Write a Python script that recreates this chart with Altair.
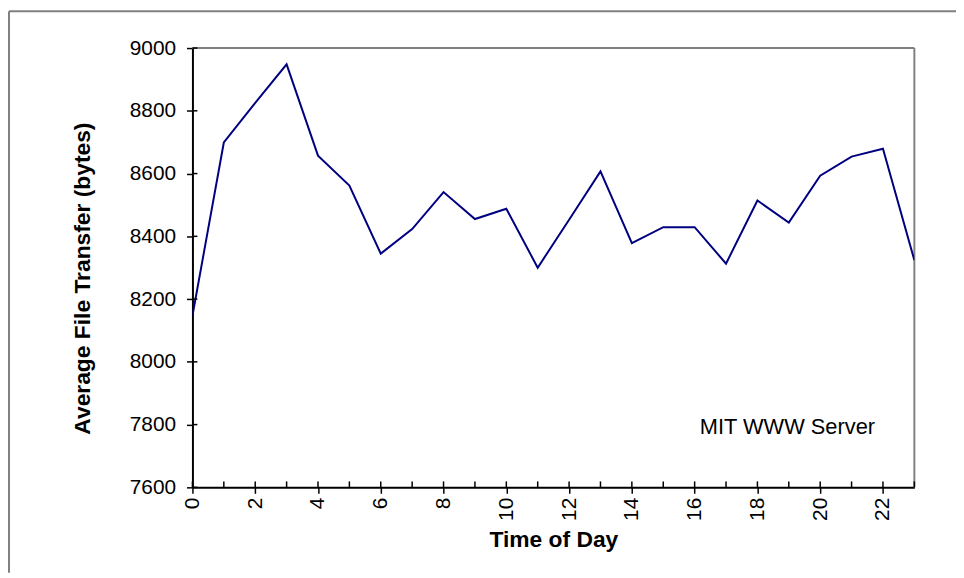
import altair as alt
import pandas as pd

hours = list(range(24))
avg_bytes = [8147, 8699, 8825, 8948, 8657, 8562, 8345, 8423, 8541, 8455, 8488, 8300,
             8453, 8607, 8378, 8429, 8429, 8313, 8514, 8444, 8593, 8654, 8679, 8324]
y_ticks = [7600, 7800, 8000, 8200, 8400, 8600, 8800, 9000]
x_ticks = list(range(24))
annotation = "MIT WWW Server"
x_title = "Time of Day"
y_title = "Average File Transfer (bytes)"

W, H = 728, 443
PAD = {"left": 186, "top": 38, "right": 42, "bottom": 86}
FONT = "Liberation Sans, Arial"

df = pd.DataFrame({"hour": hours, "bytes": avg_bytes})
ydf = pd.DataFrame({"v": y_ticks})
xdf = pd.DataFrame({"h": x_ticks})

xscale = alt.Scale(domain=[0, 23], nice=False, zero=False)
yscale = alt.Scale(domain=[7600, 9000], nice=False, zero=False)

line = alt.Chart(df).mark_line(color="#000080", strokeWidth=2, clip=True).encode(
    x=alt.X("hour:Q", scale=xscale,
            axis=alt.Axis(values=x_ticks, labelExpr="datum.value % 2 == 0 ? datum.label : ''",
                          labelAngle=-90, labelAlign="right", labelBaseline="middle",
                          labelPadding=4, labelFontSize=21, labelFont=FONT, labelColor="black",
                          tickSize=6, tickColor="black", tickWidth=1.5, domainColor="black",
                          domainWidth=2, grid=False, title=x_title, titleFont=FONT,
                          titleFontSize=23, titleFontWeight="bold", titleColor="black",
                          titleX=W / 2, titleY=60, titleBaseline="alphabetic", titleAlign="center")),
    y=alt.Y("bytes:Q", scale=yscale,
            axis=alt.Axis(values=y_ticks, format="d", labelPadding=11, labelFontSize=21,
                          labelFont=FONT, labelColor="black", tickSize=6, tickColor="black",
                          tickWidth=1.5, domainColor="black", domainWidth=2, grid=False,
                          title=y_title, titleFont=FONT, titleFontSize=23,
                          titleFontWeight="bold", titleColor="black", titleAngle=-90,
                          titleX=-111, titleY=232, titleBaseline="middle", titleAlign="center")),
)

yin = alt.Chart(ydf).mark_rule(color="black", strokeWidth=1.5).encode(
    y=alt.Y("v:Q", scale=yscale), x=alt.value(0), x2=alt.value(5))
xin = alt.Chart(xdf).mark_rule(color="black", strokeWidth=1.5).encode(
    x=alt.X("h:Q", scale=xscale), y=alt.value(H), y2=alt.value(H - 6))

top_frame = alt.Chart(pd.DataFrame({"a": [0]})).mark_rule(color="#808080", strokeWidth=2).encode(
    x=alt.value(0), x2=alt.value(W), y=alt.value(0))
right_frame = alt.Chart(pd.DataFrame({"a": [0]})).mark_rule(color="#808080", strokeWidth=2).encode(
    x=alt.value(W), y=alt.value(0), y2=alt.value(H))
outer_left = alt.Chart(pd.DataFrame({"a": [0]})).mark_rule(color="#808080", strokeWidth=2).encode(
    x=alt.value(-185), y=alt.value(-37), y2=alt.value(H + PAD["bottom"]))
outer_top = alt.Chart(pd.DataFrame({"a": [0]})).mark_rule(color="#808080", strokeWidth=2).encode(
    x=alt.value(-185), x2=alt.value(W + PAD["right"]), y=alt.value(-37))

label = alt.Chart(pd.DataFrame({"t": [annotation]})).mark_text(
    font=FONT, fontSize=22, color="black", align="center", baseline="alphabetic").encode(
    text="t:N", x=alt.value(600), y=alt.value(389))

chart = alt.layer(top_frame, right_frame, outer_left, outer_top, line, yin, xin, label).properties(
    width=W, height=H,
    autosize=alt.AutoSizeParams(type="none"),
    padding=PAD,
    background="white",
).configure_view(stroke=None)

chart.save("out.html", embed_options={"renderer": "svg", "actions": False})
